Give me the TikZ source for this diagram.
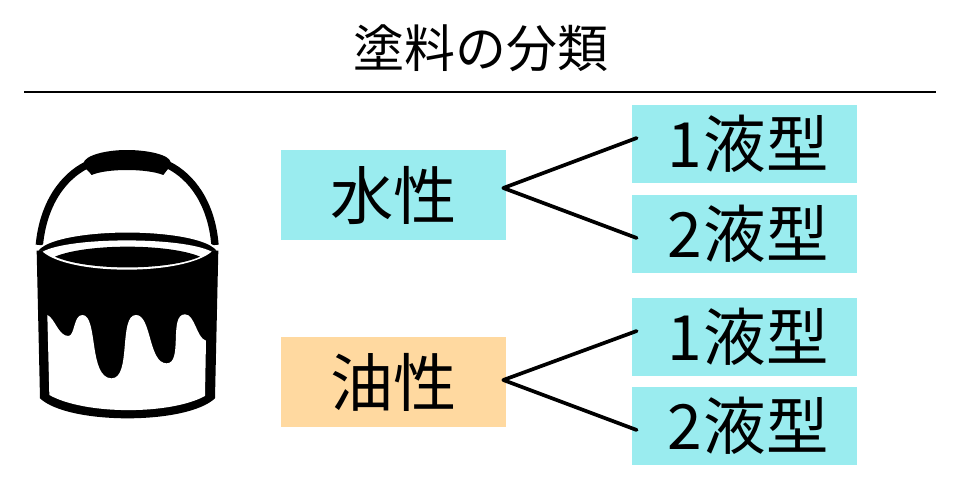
\documentclass[tikz,border=0pt]{standalone}
\usepackage{fontspec}
\setmainfont{Noto Sans CJK JP}
\usetikzlibrary{calc}
\definecolor{mizu}{HTML}{9AECEF}
\definecolor{abura}{HTML}{FFD9A0}

\begin{document}
\begin{tikzpicture}[x=0.02cm,y=-0.02cm,
kind/.style ={rectangle, fill=mizu, align=center, inner sep=0pt, minimum height=1.8cm, minimum width=4.5cm, font=\fontsize{36}{36}\selectfont},
liq/.style ={rectangle, fill=mizu, align=center, inner sep=0pt, minimum height=1.56cm, minimum width=4.5cm, font=\fontsize{35.5}{35.5}\selectfont},
fork/.style ={line width=2.1pt, line cap=round}]

\useasboundingbox (0,0) rectangle (960,480);

\draw (481,48) node[font=\fontsize{29}{29}\selectfont] (Title) {塗料の分類};
\draw[line width=1.5pt] (24,92) -- (936,92);

% bucket
\begin{scope}[shift={(20,130)},x=0.00667cm,y=-0.00667cm]
\draw[line width=4.2pt] (58,345) .. controls (70,220) and (130,140) .. (200,105);
\draw[line width=4.2pt] (585,345) .. controls (575,220) and (515,140) .. (445,105);
\fill[black] (190,100) .. controls (195,75) and (260,60) .. (320,60) .. controls (385,60) and (450,75) .. (452,97) .. controls (452,112) and (440,120) .. (430,135) .. controls (380,115) and (260,115) .. (215,135) .. controls (205,120) and (190,115) .. (190,100) -- cycle;
\filldraw[fill=black, draw=white, line width=1pt] (50,365) .. controls (70,325) and (200,305) .. (322,305) .. controls (445,305) and (575,325) .. (595,365) -- cycle;
\fill[black] (50,362) -- (595,362) -- (585,805) .. controls (500,885) and (145,885) .. (60,805) -- cycle;
\fill[white] (68,365) .. controls (150,320) and (490,320) .. (575,365) .. controls (490,437) and (150,437) .. cycle;
\fill[black] (105,380) .. controls (200,340) and (445,340) .. (540,380) .. controls (445,423) and (200,423) .. cycle;
\fill[white] (82,555) .. controls (105,565) and (115,618) .. (145,618) .. controls (165,618) and (160,555) .. (187,555) .. controls (235,555) and (205,745) .. (275,745) .. controls (335,745) and (295,555) .. (348,555) .. controls (395,555) and (385,700) .. (440,700) .. controls (490,700) and (445,553) .. (495,553) .. controls (525,553) and (530,625) .. (558,632) -- (555,798) .. controls (450,855) and (195,855) .. (88,795) -- cycle;
\end{scope}

\draw (393.5,195) node[kind] (Sui) {水性};
\draw (393.5,382) node[kind, fill=abura] (Yu) {油性};

\draw (744.5,144) node[liq] (SuiA) {\hspace{4pt}1\kern1pt液型};
\draw (744.5,234) node[liq] (SuiB) {\hspace{4pt}2\kern1pt液型};
\draw (744.5,337) node[liq] (YuA) {\hspace{4pt}1\kern1pt液型};
\draw (744.5,426) node[liq] (YuB) {\hspace{4pt}2\kern1pt液型};

\draw[fork] ([shift={(-3,-7)}]Sui.east) -- ([shift={(5,-6)}]SuiA.west);
\draw[fork] ([shift={(-3,-7)}]Sui.east) -- ([shift={(5,4)}]SuiB.west);
\draw[fork] ([shift={(-3,-2)}]Yu.east) -- ([shift={(5,-6)}]YuA.west);
\draw[fork] ([shift={(-3,-2)}]Yu.east) -- ([shift={(5,4)}]YuB.west);

\end{tikzpicture}
\end{document}
